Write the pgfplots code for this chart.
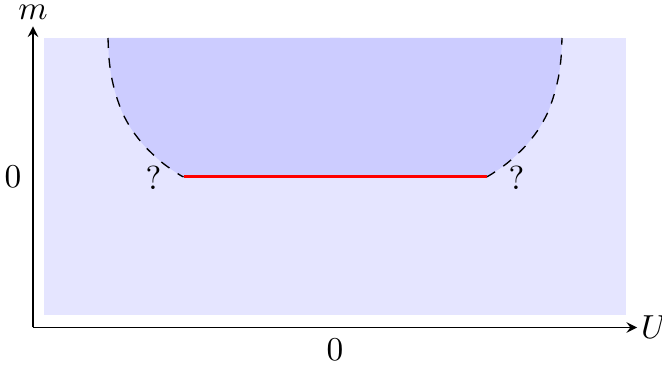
\documentclass[border=0pt]{standalone}
\usepackage{pgfplots}
\pgfplotsset{compat=1.18}
\begin{document}
\begin{tikzpicture}
\begin{axis}[
  x=30pt, y=30pt,
  xmin=-3.02, xmax=3.02,
  ymin=-1.505, ymax=1.505,
  axis lines=left,
  axis line style={thin},
  xtick={0}, ytick={0},
  major tick length=0pt,
  clip=false,
]
\coordinate (bbA) at (axis cs:-3.35,1.77);
\coordinate (bbB) at (axis cs:3.27,-1.885);
% light background
\addplot[fill=blue!10, draw=none] coordinates {(-2.905,-1.385) (2.905,-1.385) (2.905,1.39) (-2.905,1.39)} -- cycle;
% dark region (two halves, smooth boundary)
\addplot[fill=blue!20, draw=none, smooth] coordinates {
(-2.27,1.39) (-2.26,1.185) (-2.235,1.0) (-2.19,0.82) (-2.125,0.64) (-2.03,0.47) (-1.90,0.305) (-1.73,0.145) (-1.575,0.035) (-1.515,0)}
 -- (axis cs:0.05,0) -- (axis cs:0.05,1.39) -- cycle;
\addplot[fill=blue!20, draw=none, smooth] coordinates {
(1.515,0) (1.575,0.035) (1.73,0.145) (1.90,0.305) (2.03,0.47) (2.125,0.64) (2.19,0.82) (2.235,1.0) (2.26,1.185) (2.27,1.39)}
 -- (axis cs:-0.05,1.39) -- (axis cs:-0.05,0) -- cycle;
% dashed boundaries
\addplot[black, dashed, smooth] coordinates {
(-2.27,1.39) (-2.26,1.185) (-2.235,1.0) (-2.19,0.82) (-2.125,0.64) (-2.03,0.47) (-1.90,0.305) (-1.73,0.145) (-1.575,0.035) (-1.515,0)};
\addplot[black, dashed, smooth] coordinates {
(1.515,0) (1.575,0.035) (1.73,0.145) (1.90,0.305) (2.03,0.47) (2.125,0.64) (2.19,0.82) (2.235,1.0) (2.26,1.185) (2.27,1.39)};
% red segment
\addplot[red, line width=0.9pt] coordinates {(-1.515,0) (1.515,0)};
\node at (axis cs:-1.815,-0.01) {?};
\node at (axis cs:1.815,-0.01) {?};
\node[anchor=west, inner sep=0pt, xshift=1pt] at (rel axis cs:1,0) {$U$};
\node[anchor=south, inner sep=0pt, yshift=1.8pt] at (rel axis cs:0,1) {$m$};
\end{axis}
\pgfresetboundingbox
\path[use as bounding box] (bbA) rectangle (bbB);
\end{tikzpicture}
\end{document}
